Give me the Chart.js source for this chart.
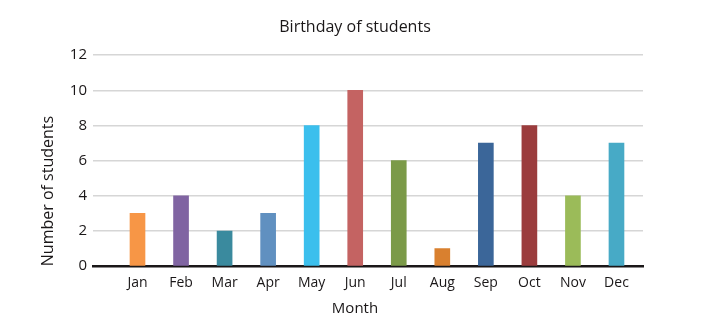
<!DOCTYPE html>
<html lang="en">

<head>
    <meta charset="UTF-8">
    <title>Birthday of students</title>
    <style>
        html, body {
            margin: 0;
            padding: 0;
            background: #fff;
        }

        #wrap {
            width: 702px;
            height: 331px;
        }
    </style>
</head>

<body>
    <div id="wrap">
        <canvas id="birthday_chart" width="702" height="331"></canvas>
    </div>

    <script src="https://cdn.jsdelivr.net/npm/chart.js@4/dist/chart.umd.min.js"></script>
    <script>
        const months = ["Jan", "Feb", "Mar", "Apr", "May", "Jun", "Jul", "Aug", "Sep", "Oct", "Nov", "Dec"];
        const students = [3, 4, 2, 3, 8, 10, 6, 1, 7, 8, 4, 7];
        const bar_colors = ["#f79646", "#8064a2", "#3a8a9e", "#6090c0", "#3bbfed", "#c46362",
            "#7b9a48", "#d9802f", "#3b6699", "#9b3c3d", "#9bbb59", "#47aac6"];
        const y_ticks = [0, 2, 4, 6, 8, 10, 12];

        const text_color = "#1a1718";
        const font_family = "'Open Sans', sans-serif";

        function create_bar_chart(element_id) {
            const element = document.getElementById(element_id);
            const data = students.map((v, i) => ({ x: i, y: v }));
            new Chart(element, {
                type: "bar",
                data: {
                    datasets: [{
                        data,
                        backgroundColor: bar_colors,
                        barThickness: 15,
                        borderWidth: 0
                    }]
                },
                options: {
                    responsive: false,
                    animation: false,
                    layout: { padding: { left: 8, right: 0, top: 0, bottom: 0 } },
                    plugins: {
                        legend: { display: false },
                        tooltip: { enabled: false },
                        title: {
                            display: true,
                            text: "Birthday of students",
                            color: text_color,
                            font: { family: font_family, size: 16, weight: "normal" },
                            padding: { top: 18, bottom: 18 }
                        },
                        subtitle: {
                            display: true,
                            position: "bottom",
                            text: "Month",
                            color: text_color,
                            font: { family: font_family, size: 15, weight: "normal" },
                            padding: { top: 1, bottom: 13 }
                        }
                    },
                    scales: {
                        x: {
                            type: "linear",
                            offset: false,
                            min: -1.022,
                            max: 11.609,
                            z: 1,
                            grid: { display: false, drawTicks: false },
                            border: { display: true, color: text_color, width: 2.5 },
                            afterBuildTicks: scale => {
                                scale.ticks = months.map((m, i) => ({ value: i }));
                            },
                            ticks: {
                                autoSkip: false,
                                maxRotation: 0,
                                padding: 8,
                                color: text_color,
                                font: { family: font_family, size: 14 },
                                callback: value => months[value]
                            }
                        },
                        y: {
                            min: 0,
                            max: 12,
                            afterBuildTicks: scale => {
                                scale.ticks = y_ticks.map(v => ({ value: v }));
                            },
                            afterFit: scale => {
                                scale.width = 85;
                            },
                            grid: { color: "#d6d6d6", lineWidth: 1.5, drawTicks: false },
                            border: { display: false },
                            ticks: {
                                padding: 6,
                                color: text_color,
                                font: { family: font_family, size: 15 }
                            },
                            title: {
                                display: true,
                                text: "Number of students",
                                align: "start",
                                color: text_color,
                                font: { family: font_family, size: 16 },
                                padding: { top: 31, bottom: 0 }
                            }
                        },
                        // empty strip to the right of the plot
                        pad: {
                            type: "linear",
                            position: "right",
                            display: true,
                            grid: { display: false },
                            border: { display: false },
                            ticks: { display: false },
                            afterFit: scale => {
                                scale.width = 59;
                            }
                        }
                    }
                }
            });
        }

        create_bar_chart("birthday_chart");
    </script>
</body>

</html>
